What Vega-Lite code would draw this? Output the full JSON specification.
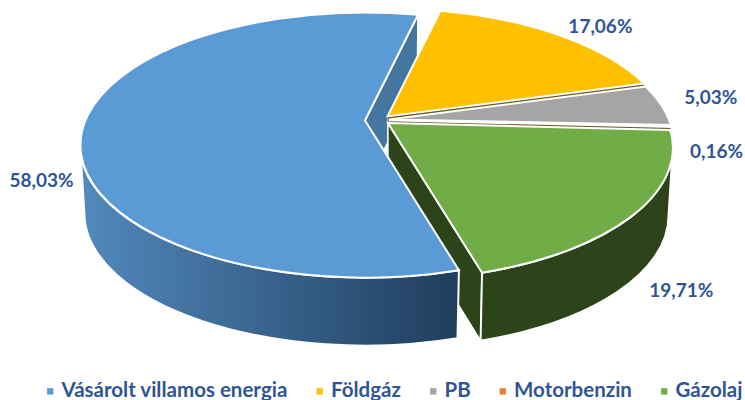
{
"$schema":"https://vega.github.io/schema/vega-lite/v6.json",
"width":745,"height":400,"padding":0,"autosize":"none",
"background":"white",
"config":{"view":{"stroke":null}},
"data":{"values":[
{"label":"Vásárolt villamos energia","value":58.03},
{"label":"Földgáz","value":17.06},
{"label":"PB","value":5.03},
{"label":"Motorbenzin","value":0.16},
{"label":"Gázolaj","value":19.71}
]},
"transform":[
{"window":[{"op":"sum","field":"value","as":"cum"}]},
{"calculate":"(164+3.6*(datum.cum-datum.value))%360","as":"a0"},
{"calculate":"datum.a0+3.6*datum.value","as":"a1"},
{"calculate":"max(datum.a0,100.7)","as":"wa0"},
{"calculate":"min(datum.a1,259.3)","as":"wa1"},
{"calculate":"datum.a0*PI/180","as":"t0"},
{"calculate":"datum.a1*PI/180","as":"t1"},
{"calculate":"(datum.t0+datum.t1)/2","as":"tm"},
{"calculate":"datum.wa0*PI/180","as":"w0"},
{"calculate":"datum.wa1*PI/180","as":"w1"},
{"calculate":"datum.value>50?19:5","as":"e"},
{"calculate":"384+datum.e*sin(datum.tm)","as":"ax"},
{"calculate":"120-datum.e*cos(datum.tm)","as":"ay"},
{"calculate":"round(2800*sin(datum.t0)/(1+0.185*cos(datum.t0)))/10","as":"x0"},
{"calculate":"round(-1280*cos(datum.t0)/(1+0.185*cos(datum.t0)))/10","as":"y0"},
{"calculate":"round(2800*sin(datum.t1)/(1+0.185*cos(datum.t1)))/10","as":"x1"},
{"calculate":"round(-1280*cos(datum.t1)/(1+0.185*cos(datum.t1)))/10","as":"y1"},
{"calculate":"round(2800*sin(datum.w0)/(1+0.185*cos(datum.w0)))/10","as":"wx0"},
{"calculate":"round(-1280*cos(datum.w0)/(1+0.185*cos(datum.w0)))/10","as":"wy0"},
{"calculate":"round(2800*sin(datum.w1)/(1+0.185*cos(datum.w1)))/10","as":"wx1"},
{"calculate":"round(-1280*cos(datum.w1)/(1+0.185*cos(datum.w1)))/10","as":"wy1"},
{"calculate":"280*sin(datum.tm)/(1+0.185*cos(datum.tm))","as":"mx"},
{"calculate":"-128*cos(datum.tm)/(1+0.185*cos(datum.tm))","as":"my"},
{"calculate":"'M0,0L'+datum.x0+','+datum.y0+'A285,132.5 0 '+(datum.a1-datum.a0>180?1:0)+' 1 '+datum.x1+','+datum.y1+'Z'","as":"topPath"},
{"calculate":"'M0,0L'+datum.x1+','+datum.y1+'L'+(datum.x1*0.985)+','+(datum.y1+68)+'L0,68Z'","as":"facePath"},
{"calculate":"'M'+datum.wx0+','+datum.wy0+'A285,132.5 0 0 1 '+datum.wx1+','+datum.wy1+'L'+(datum.wx1*0.985)+','+(datum.wy1+68)+'A280.7,132.5 0 0 0 '+(datum.wx0*0.985)+','+(datum.wy0+68)+'Z'","as":"wallPath"},
{"calculate":"384+1.2*datum.mx+{'Vásárolt villamos energia':-5,'Földgáz':12,'PB':0,'Motorbenzin':-6,'Gázolaj':0}[datum.label]","as":"lx"},
{"calculate":"120+1.2*datum.my+{'Vásárolt villamos energia':57,'Földgáz':5,'PB':-5,'Motorbenzin':25,'Gázolaj':63}[datum.label]","as":"ly"},
{"calculate":"replace(format(datum.value,'.2f'),'.',',')+'%'","as":"txt"}
],
"encoding":{
"x":{"field":"ax","type":"quantitative","axis":null,"scale":{"domain":[0,745],"range":[0,745],"nice":false,"zero":false}},
"y":{"field":"ay","type":"quantitative","axis":null,"scale":{"domain":[0,400],"range":[0,400],"nice":false,"zero":false}}
},
"layer":[
{"transform":[{"filter":"datum.label==='Vásárolt villamos energia'"}],
 "mark":{"type":"point","filled":true,"opacity":1,"stroke":"white","strokeWidth":1.5,"fill":"#44769f"},
 "encoding":{"size":{"value":4},"shape":{"field":"facePath","type":"nominal","scale":null,"legend":null}}},
{"transform":[{"filter":"datum.label==='Földgáz'||datum.label==='PB'"}],
 "mark":{"type":"point","filled":true,"opacity":1,"stroke":"white","strokeWidth":0.5,"fill":"#6b5a20"},
 "encoding":{"size":{"value":4},"shape":{"field":"facePath","type":"nominal","scale":null,"legend":null}}},
{"transform":[{"filter":"datum.label==='Gázolaj'"}],
 "mark":{"type":"point","filled":true,"opacity":1,"stroke":"white","strokeWidth":1.5,"fill":"#2d431a"},
 "encoding":{"size":{"value":4},"shape":{"field":"facePath","type":"nominal","scale":null,"legend":null}}},
{"transform":[{"filter":"datum.label==='Gázolaj'"}],
 "mark":{"type":"point","filled":true,"opacity":1,"stroke":"white","strokeWidth":2,"fill":"#2d431a"},
 "encoding":{"size":{"value":4},"shape":{"field":"wallPath","type":"nominal","scale":null,"legend":null}}},
{"transform":[{"filter":"datum.label==='Vásárolt villamos energia'"}],
 "mark":{"type":"point","filled":true,"opacity":1,"stroke":"white","strokeWidth":2,
  "fill":{"gradient":"linear","x1":0,"y1":0,"x2":1,"y2":0,"stops":[{"offset":0,"color":"#5289bd"},{"offset":1,"color":"#1f3d5c"}]}},
 "encoding":{"size":{"value":4},"shape":{"field":"wallPath","type":"nominal","scale":null,"legend":null}}},
{"mark":{"type":"point","filled":true,"opacity":1,"stroke":"white","strokeWidth":2},
 "encoding":{"size":{"value":4},
  "shape":{"field":"topPath","type":"nominal","scale":null,"legend":null},
  "color":{"field":"label","type":"nominal","sort":null,
   "scale":{"domain":["Vásárolt villamos energia","Földgáz","PB","Motorbenzin","Gázolaj"],"range":["#5b9bd5","#ffc000","#a5a5a5","#ed7d31","#70ad47"]},
   "legend":{"title":null,"orient":"none","legendX":40,"legendY":381,"direction":"horizontal","columns":5,"columnPadding":21.5,
    "symbolType":"square","symbolSize":40,"symbolStrokeWidth":0,"symbolOpacity":1,
    "labelFont":"Lato","labelFontSize":20.5,"labelFontWeight":"bold","labelColor":"#2f5597","labelLimit":300,"labelOffset":1}}}},
{"mark":{"type":"text","font":"Lato","fontSize":19,"fontWeight":"bold","color":"#2f5597","align":"center","baseline":"middle"},
 "encoding":{"x":{"field":"lx","type":"quantitative"},"y":{"field":"ly","type":"quantitative"},"text":{"field":"txt","type":"nominal"}}}
]
}
